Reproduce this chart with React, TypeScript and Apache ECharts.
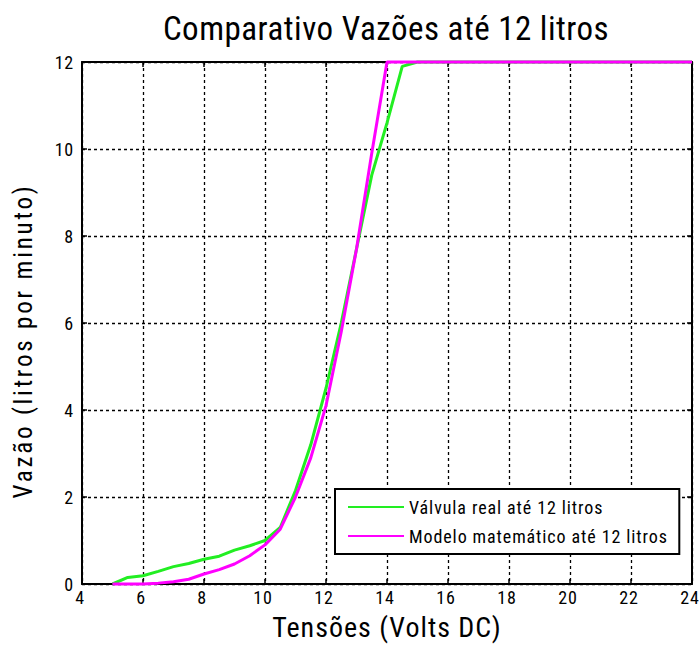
import React, { useEffect, useRef } from "react";
import * as echarts from "echarts";

const titleText = "Comparativo Vazões até 12 litros";
const xName = "Tensões (Volts DC)";
const yName = "Vazão (litros por minuto)";
const seriesNames = ["Válvula real até 12 litros", "Modelo matemático até 12 litros"];

const volts = [5, 5.5, 6, 6.5, 7, 7.5, 8, 8.5, 9, 9.5, 10, 10.5, 11, 11.5, 12, 12.5, 13, 13.5, 14, 14.5, 15, 24];
const realFlow = [0, 0.15, 0.19, 0.29, 0.4, 0.47, 0.57, 0.64, 0.78, 0.88, 1.0, 1.3, 2.15, 3.2, 4.5, 6.0, 7.7, 9.4, 10.6, 11.9, 12, 12];
const modelFlow = [0, 0, 0, 0.02, 0.05, 0.11, 0.23, 0.33, 0.46, 0.65, 0.9, 1.26, 2.0, 2.9, 4.1, 5.8, 7.7, 9.9, 12, 12, 12, 12];

// marker names (non-existent fonts) let the CSS below target each text group
const F_TITLE = "Roboto, mkTitle, sans-serif";
const F_XNAME = "Roboto, mkXName, sans-serif";
const F_YNAME = "Roboto, mkYName, sans-serif";
const F_TICK = "Roboto, mkTick, sans-serif";
const F_LEG = "Roboto, mkLeg, sans-serif";

const css = `
#root svg text { font-stretch: 75% !important; }
text[style*="mkTitle"] { letter-spacing: 0.5px; }
text[style*="mkXName"] { letter-spacing: 1px; }
text[style*="mkYName"] { letter-spacing: 2.8px; }
text[style*="mkTick"] { letter-spacing: 0.8px; }
text[style*="mkLeg"] { letter-spacing: 0.9px; }
`;

export default function App() {
  const ref = useRef<HTMLDivElement>(null);
  useEffect(() => {
    const chart = echarts.init(ref.current!, null, { renderer: "svg" });
    const dotted = { color: "#000", width: 1.3, type: [3, 3] as any };
    const frame = { show: true, onZero: false, lineStyle: { color: "#000", width: 2 } };
    const ticks = { show: true, inside: true, length: 5, lineStyle: { color: "#000", width: 1.5 } };
    chart.setOption({
      animation: false,
      backgroundColor: "#fff",
      title: {
        text: titleText,
        left: 381,
        textAlign: "center",
        top: 7,
        textStyle: { fontFamily: F_TITLE, fontSize: 33, fontWeight: "normal", color: "#000" },
      },
      grid: { left: 82, top: 62, right: 7, bottom: 62, outerBoundsMode: "none" },
      legend: {
        left: 335,
        top: 489,
        orient: "vertical",
        backgroundColor: "#fff",
        borderColor: "#000",
        borderWidth: 2,
        borderRadius: 0,
        padding: [9, 10, 9, 12],
        itemWidth: 56,
        itemHeight: 14,
        itemGap: 11,
        itemStyle: { opacity: 0 },
        textStyle: { fontFamily: F_LEG, fontSize: 18, color: "#000" },
        data: seriesNames,
      },
      xAxis: [
        {
          type: "value",
          min: 4,
          max: 24,
          interval: 2,
          position: "bottom",
          name: xName,
          nameLocation: "middle",
          nameGap: 29,
          nameTextStyle: { fontFamily: F_XNAME, fontSize: 28, color: "#000" },
          axisLine: frame,
          axisTick: ticks,
          axisLabel: { fontFamily: F_TICK, fontSize: 18, color: "#000", margin: 4, padding: [0, 4, 0, 0] },
          splitLine: { show: true, lineStyle: dotted },
        },
        {
          type: "value",
          min: 4,
          max: 24,
          interval: 2,
          position: "top",
          axisLine: frame,
          axisTick: ticks,
          axisLabel: { show: false },
          splitLine: { show: false },
        },
      ],
      yAxis: [
        {
          type: "value",
          min: 0,
          max: 12,
          interval: 2,
          position: "left",
          name: yName,
          nameLocation: "middle",
          nameGap: 46,
          nameRotate: 90,
          nameTextStyle: { fontFamily: F_YNAME, fontSize: 25, color: "#000", padding: [0, 36, 0, 0] },
          axisLine: frame,
          axisTick: ticks,
          axisLabel: { fontFamily: F_TICK, fontSize: 18, color: "#000", margin: 8 },
          splitLine: { show: true, lineStyle: dotted },
        },
        {
          type: "value",
          min: 0,
          max: 12,
          interval: 2,
          position: "right",
          axisLine: frame,
          axisTick: ticks,
          axisLabel: { show: false },
          splitLine: { show: false },
        },
      ],
      series: [
        {
          name: seriesNames[0],
          type: "line",
          symbol: "none",
          clip: false,
          data: volts.map((v, i) => [v, realFlow[i]]),
          lineStyle: { color: "#22ee22", width: 3 },
          itemStyle: { color: "#22ee22" },
        },
        {
          name: seriesNames[1],
          type: "line",
          symbol: "none",
          clip: false,
          data: volts.map((v, i) => [v, modelFlow[i]]),
          lineStyle: { color: "#ff00ff", width: 3 },
          itemStyle: { color: "#ff00ff" },
        },
      ],
    });
    return () => chart.dispose();
  }, []);
  return (
    <div style={{ position: "fixed", left: 0, top: 0 }}>
      <style>{css}</style>
      <div ref={ref} style={{ width: 699, height: 646 }} />
    </div>
  );
}
